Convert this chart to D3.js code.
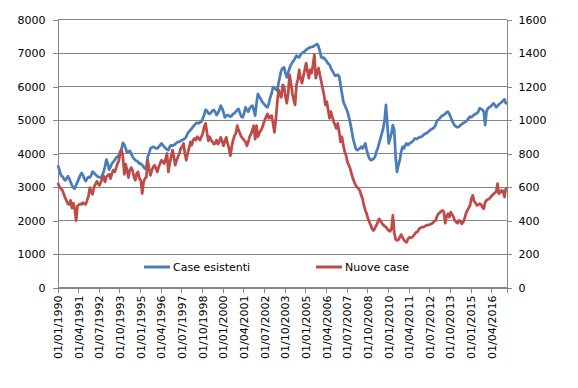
<!DOCTYPE html>
<html>
<head>
<meta charset="utf-8">
<script src="https://cdnjs.cloudflare.com/ajax/libs/d3/7.8.5/d3.min.js"></script>
<style>
  body { margin: 0; background: #fff; }
  text { font-family: "DejaVu Sans", sans-serif; font-size: 11px; fill: #000; }
</style>
</head>
<body>
<div id="chart"></div>
<script>
// monthly values, Jan 1990 -> Feb 2017
let caseEsistenti = [
  3620, 3480, 3350, 3320, 3250, 3200, 3250, 3320, 3250, 3150, 3050, 2980,
  2950, 3050, 3150, 3250, 3350, 3420, 3350, 3250, 3180, 3250, 3300, 3280,
  3350, 3460, 3420, 3380, 3330, 3300, 3290, 3280, 3350, 3450, 3620, 3820,
  3700, 3520, 3600, 3700, 3750, 3800, 3870, 3900, 3950, 4050, 4150, 4320,
  4260, 4150, 4030, 4060, 4080, 4000, 3900, 3850, 3800, 3780, 3750, 3700,
  3700, 3650, 3600, 3550, 3600, 3900, 4000, 4150, 4180, 4200, 4180, 4150,
  4150, 4200, 4250, 4300, 4250, 4200, 4150, 4120, 4100, 4200, 4250, 4230,
  4250, 4280, 4320, 4350, 4350, 4380, 4400, 4420, 4450, 4500, 4600, 4650,
  4700, 4750, 4800, 4850, 4900, 4920, 4900, 4930, 4950, 5050, 5150, 5300,
  5280, 5200, 5180, 5220, 5280, 5300, 5250, 5150, 5200, 5300, 5430, 5350,
  5230, 5080, 5120, 5150, 5130, 5100, 5130, 5180, 5200, 5250, 5300, 5330,
  5200, 5100, 5080, 5200, 5380, 5300, 5250, 5350, 5400, 5430, 5300, 5130,
  5500, 5780, 5700, 5630, 5550, 5500, 5450, 5400, 5380, 5500, 5680, 5800,
  5980, 5950, 5920, 5880, 6100, 6300, 6480, 6550, 6570, 6400, 6270, 6420,
  6550, 6650, 6720, 6770, 6850, 6920, 6880, 6870, 6950, 7000, 7020, 7050,
  7100, 7120, 7150, 7170, 7180, 7190, 7220, 7240, 7270, 7200, 7050, 6870,
  6850, 6860, 6800, 6750, 6680, 6650, 6550, 6470, 6400, 6320, 6330, 6350,
  6300, 6050, 5800, 5550, 5450, 5350, 5250, 5100, 4920, 4700, 4470, 4300,
  4150, 4100, 4120, 4150, 4200, 4150, 4220, 4300, 4100, 3950, 3850, 3800,
  3820, 3850, 3900, 4050, 4150, 4300, 4450, 4600, 4750, 5000, 5450, 4850,
  4300, 4450, 4600, 4850, 4700, 3900, 3450, 3650, 3800, 4050, 4200, 4150,
  4250, 4300, 4250, 4300, 4320, 4350, 4400, 4450, 4430, 4450, 4480, 4500,
  4500, 4550, 4580, 4600, 4620, 4650, 4700, 4720, 4750, 4780, 4850, 4980,
  5000, 5050, 5100, 5130, 5150, 5180, 5230, 5250, 5180, 5080, 4980, 4900,
  4830, 4800, 4780, 4800, 4850, 4880, 4900, 4930, 4950, 5000, 5050, 5100,
  5080, 5120, 5150, 5180, 5200, 5250, 5350, 5330, 5300, 5250, 4850, 5250,
  5350, 5380, 5400, 5450, 5500, 5450, 5380, 5420, 5470, 5500, 5530, 5580,
  5620, 5500
];
let nuoveCase = [
  620, 600, 590, 580, 560, 536, 520, 500, 496, 520, 474, 504,
  470, 400, 486, 494, 500, 496, 506, 500, 496, 520, 546, 596,
  570, 556, 600, 616, 634, 620, 610, 630, 650, 664, 630, 660,
  670, 676, 650, 680, 700, 690, 710, 740, 754, 800, 824, 780,
  676, 736, 700, 656, 700, 716, 700, 660, 640, 680, 690, 650,
  640, 560, 630, 650, 660, 760, 710, 670, 700, 720, 730, 710,
  690, 720, 740, 760, 750, 740, 770, 800, 690, 740, 780, 820,
  780, 730, 760, 780, 800, 830, 840, 860, 800, 760, 800, 830,
  870, 850, 880, 890, 880, 900, 890, 880, 900, 920, 960, 980,
  926, 876, 900, 880, 870, 856, 860, 880, 856, 870, 896, 876,
  846, 870, 896, 860, 830, 786, 840, 880, 906, 920, 966, 940,
  920, 900, 890, 880, 870, 846, 870, 900, 916, 940, 966, 886,
  966, 900, 920, 936, 950, 976, 1000, 1020, 1036, 1010, 1020, 1026,
  980, 926, 1000, 1100, 1180, 1150, 1136, 1210, 1200, 1140, 1100, 1160,
  1270, 1220, 1160, 1120, 1090, 1210, 1240, 1300, 1250, 1220, 1260, 1300,
  1340, 1290, 1250, 1300, 1280, 1330, 1390, 1250, 1280, 1310, 1270, 1230,
  1190, 1150, 1090, 1110, 1060, 1010, 1050, 1020, 990, 970, 950, 980,
  930, 870, 900, 850, 810, 790, 750, 730, 710, 680, 650, 630,
  610, 600, 590, 580, 550, 530, 490, 460, 440, 410, 390, 370,
  350, 340, 355, 370, 390, 410, 400, 384, 374, 366, 360, 350,
  340, 336, 350, 430, 330, 286, 282, 284, 300, 316, 300, 284,
  276, 270, 290, 300, 296, 300, 310, 320, 330, 334, 350, 356,
  360, 360, 364, 370, 372, 374, 376, 380, 386, 396, 400, 424,
  440, 446, 456, 460, 452, 384, 424, 440, 420, 450, 436, 420,
  400, 390, 384, 400, 396, 380, 390, 410, 440, 460, 474, 490,
  530, 550, 516, 504, 490, 494, 500, 496, 480, 470, 510, 520,
  526, 530, 540, 550, 556, 566, 570, 620, 560, 566, 580, 576,
  540, 590
];
let tickLabels = ["01/01/1990", "01/04/1991", "01/07/1992", "01/10/1993", "01/01/1995",
  "01/04/1996", "01/07/1997", "01/10/1998", "01/01/2000", "01/04/2001", "01/07/2002",
  "01/10/2003", "01/01/2005", "01/04/2006", "01/07/2007", "01/10/2008", "01/01/2010",
  "01/04/2011", "01/07/2012", "01/10/2013", "01/01/2015", "01/04/2016"];
let leftTicks = [0, 1000, 2000, 3000, 4000, 5000, 6000, 7000, 8000];
let rightTicks = [0, 200, 400, 600, 800, 1000, 1200, 1400, 1600];
let seriesNames = ["Case esistenti", "Nuove case"];

let width = 578, height = 388;
let plot = { left: 57.5, right: 506.5, top: 19.5, bottom: 287.5 };
let blue = "#4a7ebb", red = "#be4b48", grid = "#868686";

let svg = d3.select("#chart").append("svg")
    .attr("width", width)
    .attr("height", height);

let n = caseEsistenti.length;
let x = d3.scaleLinear().domain([0, n]).range([plot.left, plot.right]);
let yL = d3.scaleLinear().domain([0, 8000]).range([plot.bottom, plot.top]);
let yR = d3.scaleLinear().domain([0, 1600]).range([plot.bottom, plot.top]);

// gridlines
svg.append("g")
    .selectAll("line")
    .data(leftTicks)
    .enter()
    .append("line")
    .attr("x1", plot.left)
    .attr("x2", plot.right)
    .attr("y1", d => yL(d))
    .attr("y2", d => yL(d))
    .attr("stroke", grid)
    .attr("stroke-width", 1)
    .attr("shape-rendering", "crispEdges");

let leftAxis = svg.append("g")
    .attr("transform", "translate(" + plot.left + ",0)")
    .call(d3.axisLeft(yL).tickValues(leftTicks).tickSize(5).tickPadding(7).tickFormat(d3.format("d")));
let rightAxis = svg.append("g")
    .attr("transform", "translate(" + plot.right + ",0)")
    .call(d3.axisRight(yR).tickValues(rightTicks).tickSize(5).tickPadding(7).tickFormat(d3.format("d")));
let xAxis = svg.append("g")
    .attr("transform", "translate(0," + plot.bottom + ")")
    .call(d3.axisBottom(x)
        .tickValues(tickLabels.map((d, i) => i * 15))
        .tickSize(5)
        .tickFormat((d, i) => tickLabels[i]));
xAxis.selectAll(".tick text")
    .attr("transform", "rotate(-90)")
    .attr("text-anchor", "end")
    .attr("x", -8)
    .attr("y", 0)
    .attr("dy", "0.36em");

[leftAxis, rightAxis, xAxis].forEach(function (a) {
    a.selectAll("path, line").attr("stroke", grid).attr("shape-rendering", "crispEdges");
    a.selectAll("text").attr("fill", "#000").style("font-family", "DejaVu Sans").style("font-size", "11px");
});

let lineL = d3.line().x((d, i) => x(i + 0.5)).y(d => yL(d));
let lineR = d3.line().x((d, i) => x(i + 0.5)).y(d => yR(d));

svg.append("path")
    .datum(caseEsistenti)
    .attr("d", lineL)
    .attr("fill", "none")
    .attr("stroke", blue)
    .attr("stroke-width", 2.75)
    .attr("stroke-linejoin", "round")
    .attr("stroke-linecap", "round");
svg.append("path")
    .datum(nuoveCase)
    .attr("d", lineR)
    .attr("fill", "none")
    .attr("stroke", red)
    .attr("stroke-width", 2.75)
    .attr("stroke-linejoin", "round")
    .attr("stroke-linecap", "round");

// legend
let legend = svg.append("g").attr("transform", "translate(0,267)");
let legendItems = [{ x: 144, color: blue }, { x: 316, color: red }];
legendItems.forEach(function (item, i) {
    legend.append("line")
        .attr("x1", item.x)
        .attr("x2", item.x + 26)
        .attr("y1", 0)
        .attr("y2", 0)
        .attr("stroke", item.color)
        .attr("stroke-width", 3);
    legend.append("text")
        .attr("x", item.x + 29)
        .attr("dy", "0.36em")
        .text(seriesNames[i]);
});
</script>
</body>
</html>
